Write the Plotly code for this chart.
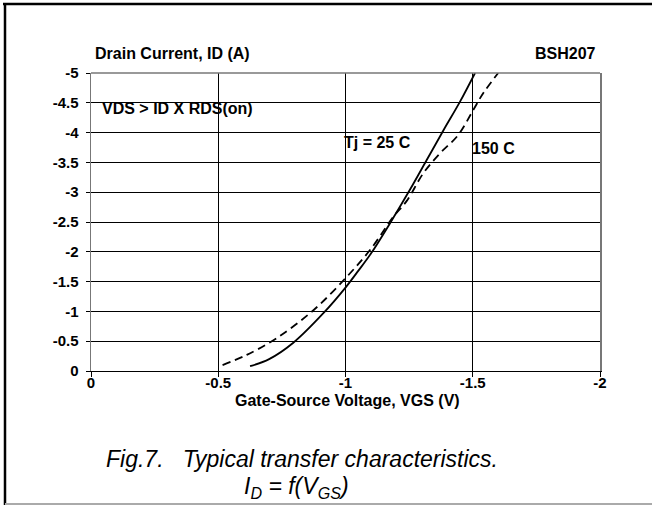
import plotly.graph_objects as go

# ---- data ----
vgs_25 = [-0.625, -0.70, -0.795, -0.913, -1.00, -1.05, -1.10, -1.175, -1.253, -1.319, -1.385, -1.45, -1.509]
id_25 = [-0.08, -0.20, -0.475, -0.97, -1.40, -1.68, -1.97, -2.48, -3.04, -3.54, -4.04, -4.52, -5.00]

vgs_150 = [-0.517, -0.612, -0.729, -0.874, -1.005, -1.10, -1.188, -1.24, -1.306, -1.371, -1.443, -1.502, -1.541, -1.60]
id_150 = [-0.10, -0.27, -0.55, -1.02, -1.58, -2.05, -2.59, -2.85, -3.32, -3.65, -3.96, -4.38, -4.66, -5.00]

x_ticks = [0, -0.5, -1, -1.5, -2]
x_ticklabels = ["0", "-0.5", "-1", "-1.5", "-2"]
y_ticks = [0, -0.5, -1, -1.5, -2, -2.5, -3, -3.5, -4, -4.5, -5]
y_ticklabels = ["0", "-0.5", "-1", "-1.5", "-2", "-2.5", "-3", "-3.5", "-4", "-4.5", "-5"]

W, H = 652, 506
ML, MR, MT, MB = 91, 52, 73, 135
PW = W - ML - MR
PH = H - MT - MB


def px_x(p):
    return (p - ML) / PW


def px_y(p):
    return (H - MB - p) / PH


FONT = "Liberation Sans, Arial, sans-serif"

fig = go.Figure()
fig.add_trace(go.Scatter(x=vgs_25, y=id_25, mode="lines", line=dict(color="black", width=1.8, shape="spline"),
                         showlegend=False, hoverinfo="skip"))
fig.add_trace(go.Scatter(x=vgs_150, y=id_150, mode="lines",
                         line=dict(color="black", width=1.8, dash="8px,5px", shape="spline"),
                         showlegend=False, hoverinfo="skip"))

bold = dict(family=FONT, size=16, color="black", weight="bold")
tickf = dict(family=FONT, size=15, color="black", weight="bold")

fig.update_layout(
    width=W, height=H,
    margin=dict(l=ML, r=MR, t=MT, b=MB, autoexpand=False),
    paper_bgcolor="white", plot_bgcolor="white",
    xaxis=dict(range=[0, -2], tickvals=x_ticks, ticktext=x_ticklabels,
               showgrid=True, gridcolor="black", gridwidth=1,
               showline=True, linecolor="black", linewidth=1, mirror=False,
               ticks="outside", ticklen=5, tickcolor="black", ticklabelstandoff=-7,
               tickfont=tickf, zeroline=False, fixedrange=True),
    yaxis=dict(range=[0, -5], tickvals=y_ticks, ticktext=y_ticklabels,
               showgrid=True, gridcolor="black", gridwidth=1,
               showline=True, linecolor="#777777", linewidth=1.5, mirror=True,
               ticks="outside", ticklen=4, tickcolor="black", ticklabelstandoff=4,
               tickfont=tickf, zeroline=False, fixedrange=True),
)

ann = []
ann.append(dict(text="Drain Current, ID (A)", x=px_x(93), y=px_y(53), xref="paper", yref="paper",
                xanchor="left", yanchor="middle", showarrow=False, font=bold))
ann.append(dict(text="BSH207", x=px_x(598), y=px_y(53), xref="paper", yref="paper",
                xanchor="right", yanchor="middle", showarrow=False, font=bold))
ann.append(dict(text="Gate-Source Voltage, VGS (V)", x=px_x(347), y=px_y(400), xref="paper", yref="paper",
                xanchor="center", yanchor="middle", showarrow=False, font=bold))
ann.append(dict(text="VDS > ID X RDS(on)", x=-0.035, y=-4.41, xref="x", yref="y",
                xanchor="left", yanchor="middle", showarrow=False, font=bold))
ann.append(dict(text="Tj = 25 C", x=-0.986, y=-3.83, xref="x", yref="y",
                xanchor="left", yanchor="middle", showarrow=False, font=bold))
ann.append(dict(text="150 C", x=-1.489, y=-3.74, xref="x", yref="y",
                xanchor="left", yanchor="middle", showarrow=False, font=bold))
cap = dict(family=FONT, size=23, color="black", style="italic")
ann.append(dict(text="Fig.7.   Typical transfer characteristics.", x=px_x(302), y=px_y(459),
                xref="paper", yref="paper", xanchor="center", yanchor="middle", showarrow=False, font=cap))
ann.append(dict(text="I<sub>D</sub> = f(V<sub>GS</sub>)", x=px_x(296), y=px_y(487),
                xref="paper", yref="paper", xanchor="center", yanchor="middle", showarrow=False, font=cap))
fig.update_layout(annotations=ann)

shapes = [
    dict(type="line", xref="paper", yref="paper", x0=0, x1=1, y0=1, y1=1,
         line=dict(color="#777777", width=1.5)),
    dict(type="line", xref="paper", yref="paper", x0=px_x(3), x1=px_x(660), y0=px_y(4), y1=px_y(4),
         line=dict(color="black", width=2.5)),
    dict(type="line", xref="paper", yref="paper", x0=px_x(5), x1=px_x(5), y0=px_y(3), y1=px_y(505),
         line=dict(color="black", width=2.5)),
    dict(type="line", xref="paper", yref="paper", x0=px_x(5), x1=px_x(660), y0=px_y(504), y1=px_y(504),
         line=dict(color="#aaaaaa", width=2)),
]
fig.update_layout(shapes=shapes)

fig.write_html("out.html", config={"displayModeBar": False, "staticPlot": True},
               post_script="document.body.style.margin='0';document.body.style.overflow='hidden';")
